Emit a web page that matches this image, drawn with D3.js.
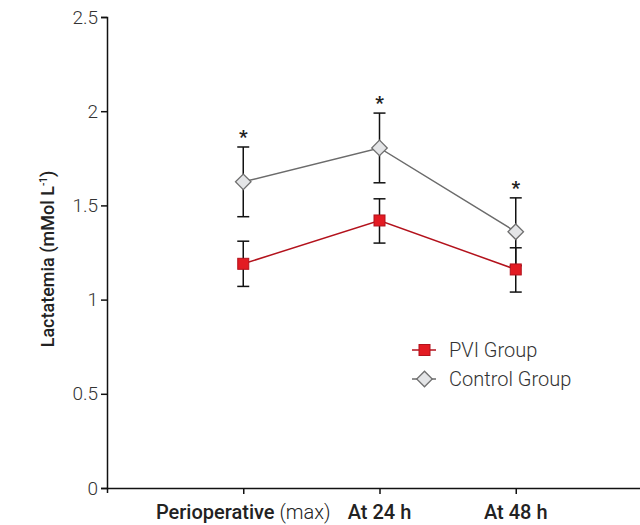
<!DOCTYPE html>
<html>
<head>
<meta charset="utf-8">
<script src="https://cdn.jsdelivr.net/npm/d3@7"></script>
<style>
  body { margin: 0; background: #fff; }
  svg { display: block; font-family: Roboto, "Open Sans", sans-serif; }
</style>
</head>
<body>
<svg width="640" height="525"></svg>
<script>
const categories = ["Perioperative", "At 24 h", "At 48 h"];
const pviMean = [1.19, 1.42, 1.16];
const pviLow = [1.07, 1.30, 1.04];
const pviHigh = [1.31, 1.535, 1.275];
const ctrlMean = [1.625, 1.805, 1.36];
const ctrlLow = [1.44, 1.62, 1.18];
const ctrlHigh = [1.81, 1.99, 1.54];
const yTicks = [0, 0.5, 1, 1.5, 2, 2.5];

function draw() {
  const svg = d3.select("svg");

  const x = d3.scalePoint().domain(categories).range([107, 652]).padding(1);
  const y = d3.scaleLinear().domain([0, 2.5]).range([488, 17]);

  // y axis
  const yAxis = svg.append("g")
    .attr("transform", "translate(107,0)")
    .call(d3.axisLeft(y).tickValues(yTicks).tickFormat(d3.format("~g")).tickSize(6).tickPadding(3));
  yAxis.selectAll("text")
    .attr("font-size", 19).attr("font-weight", 300).attr("fill", "#333")
    .attr("font-family", "Roboto, sans-serif");

  // x axis
  svg.append("g")
    .attr("transform", "translate(0,488)")
    .call(d3.axisBottom(x).tickSize(6).tickSizeOuter(5).tickFormat(""));

  svg.selectAll(".domain, .tick line")
    .attr("stroke", "#111").attr("stroke-width", 1.5);

  // x labels
  const xl = svg.append("text")
    .attr("x", x(categories[0]))
    .attr("y", 519)
    .attr("text-anchor", "middle")
    .attr("font-size", 20)
    .attr("fill", "#222");
  xl.append("tspan").attr("font-weight", 500).text("Perioperative");
  xl.append("tspan").attr("font-weight", 300).text(" (max)");

  svg.selectAll(".xlab")
    .data(categories.slice(1))
    .enter().append("text")
    .attr("x", d => x(d))
    .attr("y", 519)
    .attr("text-anchor", "middle")
    .attr("font-size", 20)
    .attr("font-weight", 500)
    .attr("fill", "#222")
    .text(d => d);

  // y title
  const yt = svg.append("text")
    .attr("transform", "translate(54,259) rotate(-90)")
    .attr("text-anchor", "middle")
    .attr("font-size", 18)
    .attr("font-weight", 500)
    .attr("fill", "#222");
  yt.append("tspan").text("Lactatemia (mMol L");
  yt.append("tspan").attr("font-size", 10).attr("dy", -7).text("-1");
  yt.append("tspan").attr("dy", 7).text(")");

  const line = d3.line().x((d, i) => x(categories[i])).y(d => y(d));

  // error bars
  function errBars(lo, hi) {
    const g = svg.append("g").attr("stroke", "#111").attr("stroke-width", 1.5);
    categories.forEach((c, i) => {
      g.append("line").attr("x1", x(c)).attr("x2", x(c)).attr("y1", y(lo[i])).attr("y2", y(hi[i]));
      g.append("line").attr("x1", x(c) - 6).attr("x2", x(c) + 6).attr("y1", y(lo[i])).attr("y2", y(lo[i]));
      g.append("line").attr("x1", x(c) - 6).attr("x2", x(c) + 6).attr("y1", y(hi[i])).attr("y2", y(hi[i]));
    });
  }
  errBars(ctrlLow, ctrlHigh);
  errBars(pviLow, pviHigh);

  // lines
  svg.append("path").datum(ctrlMean).attr("d", line)
    .attr("fill", "none").attr("stroke", "#6b6b6b").attr("stroke-width", 1.5);
  svg.append("path").datum(pviMean).attr("d", line)
    .attr("fill", "none").attr("stroke", "#b3121c").attr("stroke-width", 1.5);

  const diamond = d3.symbol().type(d3.symbolSquare).size(120);

  // markers
  svg.selectAll(".ctrl")
    .data(ctrlMean).enter().append("path")
    .attr("d", diamond)
    .attr("transform", (d, i) => `translate(${x(categories[i])},${y(d)}) rotate(45)`)
    .attr("fill", "#e4e5e7").attr("stroke", "#707070").attr("stroke-width", 1.3);

  svg.selectAll(".pvi")
    .data(pviMean).enter().append("rect")
    .attr("x", (d, i) => x(categories[i]) - 5.5)
    .attr("y", d => y(d) - 5.5)
    .attr("width", 11).attr("height", 11)
    .attr("fill", "#e31b23").attr("stroke", "#b3121c").attr("stroke-width", 1);

  // significance stars
  svg.selectAll(".star")
    .data(ctrlHigh).enter().append("text")
    .attr("x", (d, i) => x(categories[i]))
    .attr("y", d => y(d) - 4)
    .attr("text-anchor", "middle")
    .attr("font-size", 19)
    .attr("font-weight", 700)
    .attr("fill", "#222")
    .text("*");

  // legend
  const legend = svg.append("g").attr("transform", "translate(412,350)");
  legend.append("line").attr("x1", 0).attr("x2", 24).attr("y1", 0).attr("y2", 0)
    .attr("stroke", "#b3121c").attr("stroke-width", 1.5);
  legend.append("rect").attr("x", 7).attr("y", -5.5).attr("width", 11).attr("height", 11)
    .attr("fill", "#e31b23").attr("stroke", "#b3121c");
  legend.append("text").attr("x", 37).attr("y", 7)
    .attr("font-size", 20).attr("font-weight", 300).attr("fill", "#333").text("PVI Group");

  const l2 = legend.append("g").attr("transform", "translate(0,29)");
  l2.append("line").attr("x1", 0).attr("x2", 24).attr("y1", 0).attr("y2", 0)
    .attr("stroke", "#6b6b6b").attr("stroke-width", 1.5);
  l2.append("path").attr("d", diamond).attr("transform", "translate(12.5,0) rotate(45)")
    .attr("fill", "#e4e5e7").attr("stroke", "#707070").attr("stroke-width", 1.3);
  l2.append("text").attr("x", 37).attr("y", 7)
    .attr("font-size", 20).attr("font-weight", 300).attr("fill", "#333").text("Control Group");
}

window.onload = draw;
</script>
</body>
</html>
